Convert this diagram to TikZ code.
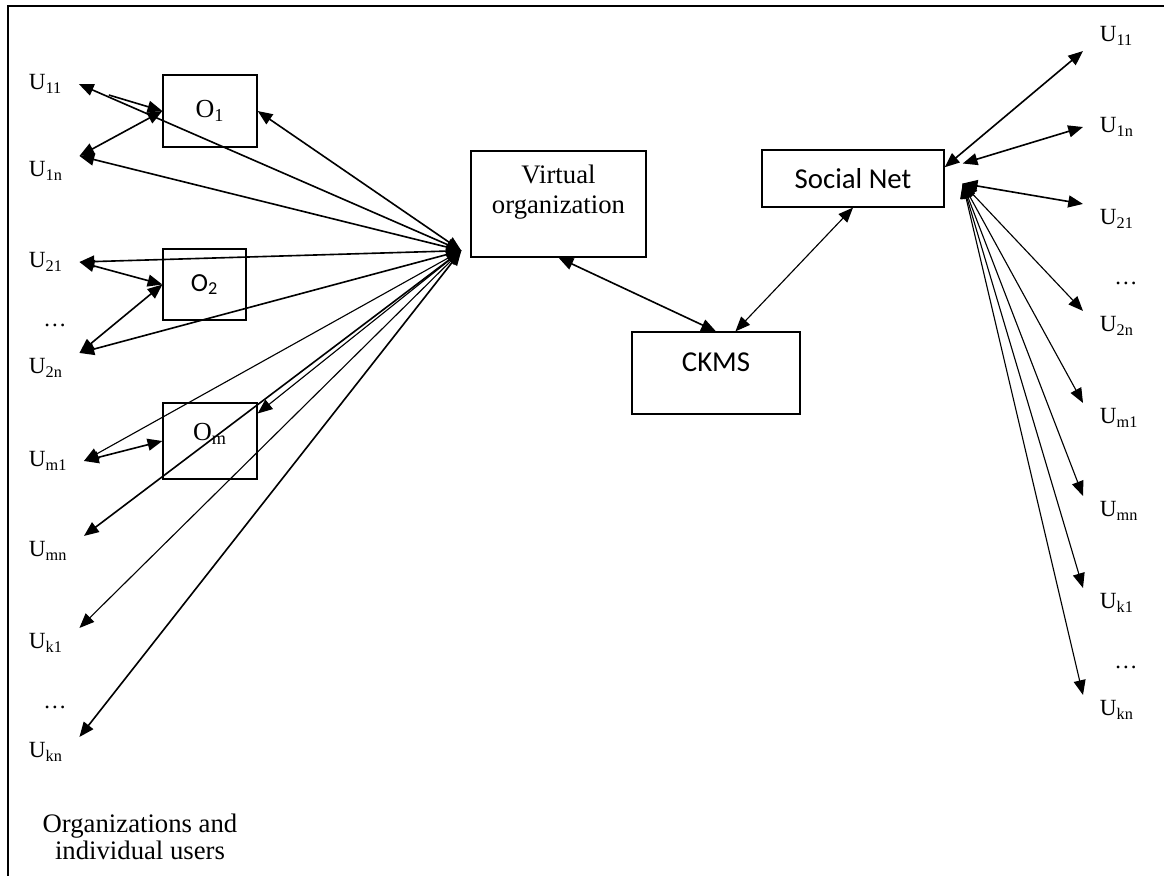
\documentclass[tikz,border=0pt]{standalone}
\usepackage{fontspec}
\setmainfont{Liberation Serif}
\newfontfamily\calibri{Carlito}
\usetikzlibrary{arrows.meta}

\begin{document}
\begin{tikzpicture}[x=0.025cm,y=-0.025cm,
	>={Triangle[length=10.5pt,width=8.5pt]},
	obox/.style={draw,line width=0.9pt,rectangle,inner sep=0pt},
	ulab/.style={inner sep=0pt,outer xsep=12pt,outer ysep=4pt,anchor=west,font=\fontsize{16.5}{18}\selectfont},
	ellip/.style={inner sep=0pt,font=\fontsize{16.5}{18}\selectfont},
	link/.style={<->,line width=1.15pt},
	thinlink/.style={<->,line width=0.8pt}]
	\useasboundingbox (0,0) rectangle (1164,876);
	\draw[line width=1.1pt] (1164,6) -| (8,876);
	\node[obox,minimum width=66.9pt,minimum height=51.2pt,font=\fontsize{18.5}{20}\selectfont] (o1) at (210,111) {O\textsubscript{1}};
	\node[obox,minimum width=59pt,minimum height=50.5pt,font=\calibri\fontsize{18.5}{20}\selectfont] (o2) at (204.5,284.5) {O\textsubscript{2}};
	\node[obox,minimum width=66.9pt,minimum height=54pt,text depth=13pt,font=\fontsize{18.5}{20}\selectfont] (om) at (210,441) {O\textsubscript{m}};
	\node[obox,minimum width=124.5pt,minimum height=75.4pt,align=center,text depth=21pt,font=\fontsize{19}{22}\selectfont] (vo) at (558.5,204) {Virtual\\organization};
	\node[obox,minimum width=119.5pt,minimum height=58.3pt,text depth=16pt,font=\calibri\fontsize{20.5}{24}\selectfont] (ck) at (716,373) {CKMS};
	\node[obox,minimum width=129.5pt,minimum height=40.5pt,font=\calibri\fontsize{20.5}{24}\selectfont] (sn) at (853,178.5) {Social Net};
	\node[ulab] (l11) at (12,84) {U\textsubscript{11}};
	\node[ulab] (l1n) at (12,171) {U\textsubscript{1n}};
	\node[ulab] (l21) at (12,262) {U\textsubscript{21}};
	\node[ellip] (ld1) at (55,325) {\dots};
	\node[ulab] (l2n) at (12,368) {U\textsubscript{2n}};
	\node[ulab] (lm1) at (12,461) {U\textsubscript{m1}};
	\node[ulab] (lmn) at (12,551) {U\textsubscript{mn}};
	\node[ulab] (lk1) at (12,643) {U\textsubscript{k1}};
	\node[ellip] (ld2) at (55,707) {\dots};
	\node[ulab] (lkn) at (12,752) {U\textsubscript{kn}};
	\node[align=center,font=\fontsize{19}{19.3}\selectfont] (cap) at (140,837) {Organizations and\\individual users};
	\node[ulab] (r11) at (1083,36) {U\textsubscript{11}};
	\node[ulab] (r1n) at (1083,127) {U\textsubscript{1n}};
	\node[ulab] (r21) at (1083,219) {U\textsubscript{21}};
	\node[ellip] (rd1) at (1126,283) {\dots};
	\node[ulab] (r2n) at (1083,326) {U\textsubscript{2n}};
	\node[ulab] (rm1) at (1083,418) {U\textsubscript{m1}};
	\node[ulab] (rmn) at (1083,511) {U\textsubscript{mn}};
	\node[ulab] (rk1) at (1083,603) {U\textsubscript{k1}};
	\node[ellip] (rd2) at (1126,667) {\dots};
	\node[ulab] (rkn) at (1083,710) {U\textsubscript{kn}};
	\coordinate (vh) at ([shift={(-9,-7)}]vo.south west);
	\coordinate (sh) at ([shift={(18,5)}]sn.east);
	\coordinate (sh1) at ([shift={(18,-15)}]sn.east);
	\coordinate (c11) at ([shift={(30,11)}]l11.east);
	\draw[link] (vh) -- (o1.east);
	\draw[link] (vh) -- (l11.east);
	\draw[->,line width=1.15pt] (c11) -- (o1.west);
	\draw[link] (o1.west) -- (l1n.north east);
	\draw[link] (vh) -- (l1n.north east);
	\draw[link] (vh) -- (l21.east);
	\draw[link] (l21.east) -- (o2.west);
	\draw[link] (o2.west) -- (l2n.north east);
	\draw[link] (vh) -- (l2n.north east);
	\draw[thinlink] (vh) -- (lm1.east);
	\draw[link] (lm1.east) -- (om.west);
	\draw[thinlink] (vh) -- (om.30);
	\draw[link] (vh) -- (lmn.north east);
	\draw[thinlink] (vh) -- (lk1.north east);
	\draw[link] (vh) -- (lkn.north east);
	\draw[link] (vo.south) -- (ck.north);
	\draw[thinlink] (sn.south) -- (ck.65);
	\draw[link] (sn.7) -- (r11.south west);
	\draw[link] (sh1) -- (r1n.west);
	\draw[link] (sh) -- (r21.north west);
	\draw[thinlink] (sh) -- (r2n.north west);
	\draw[thinlink] (sh) -- (rm1.north west);
	\draw[thinlink] (sh) -- (rmn.north west);
	\draw[thinlink] (sh) -- (rk1.north west);
	\draw[thinlink] (sh) -- (rkn.north west);
\end{tikzpicture}
\end{document}
